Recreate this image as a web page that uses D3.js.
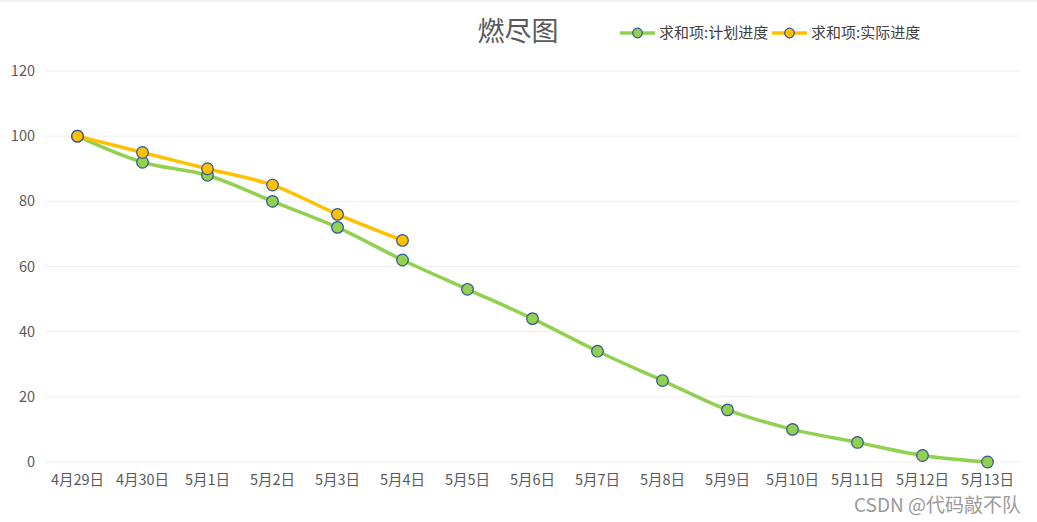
<!DOCTYPE html>
<html>
<head>
<meta charset="utf-8">
<script src="https://cdn.jsdelivr.net/npm/d3@7"></script>
<style>
  body { margin: 0; background: #fff; }
  svg { font-family: "Noto Sans CJK SC", "DejaVu Sans", sans-serif; }
</style>
</head>
<body>
<div id="chart"></div>
<script>
const categories = ["4月29日", "4月30日", "5月1日", "5月2日", "5月3日", "5月4日", "5月5日",
  "5月6日", "5月7日", "5月8日", "5月9日", "5月10日", "5月11日", "5月12日", "5月13日"];
const planned = [100, 92, 88, 80, 72, 62, 53, 44, 34, 25, 16, 10, 6, 2, 0];
const actual = [100, 95, 90, 85, 76, 68];
const yTicks = [0, 20, 40, 60, 80, 100, 120];
const seriesNames = ["求和项:计划进度", "求和项:实际进度"];

const width = 1037, height = 522;
const margin = { top: 71, right: 17, bottom: 60, left: 45 };

const svg = d3.select("#chart").append("svg")
  .attr("width", width)
  .attr("height", height);

// faint strip at the very top
svg.append("line")
  .attr("x1", 0).attr("x2", width)
  .attr("y1", 1).attr("y2", 1)
  .attr("stroke", "#ececec").attr("stroke-width", 1.5);

const x = d3.scalePoint(categories, [margin.left, width - margin.right]).padding(0.5);
const y = d3.scaleLinear([0, 120], [height - margin.bottom, margin.top]);

// grid
svg.append("g")
  .selectAll("line")
  .data(yTicks)
  .join("line")
  .attr("x1", margin.left)
  .attr("x2", width - margin.right)
  .attr("y1", d => y(d))
  .attr("y2", d => y(d))
  .attr("stroke", "#eeeeee")
  .attr("stroke-width", 1);

// y labels
svg.append("g")
  .selectAll("text")
  .data(yTicks)
  .join("text")
  .attr("x", 35)
  .attr("y", d => y(d) + 5)
  .attr("text-anchor", "end")
  .attr("fill", "#595959")
  .attr("font-size", "14.5px")
  .text(d => d);

// x labels
svg.append("g")
  .selectAll("text")
  .data(categories)
  .join("text")
  .attr("x", d => x(d))
  .attr("y", 485)
  .attr("text-anchor", "middle")
  .attr("fill", "#595959")
  .attr("font-size", "14.5px")
  .text(d => d);

const line = d3.line()
  .curve(d3.curveCatmullRom)
  .x((d, i) => x(categories[i]))
  .y(d => y(d));

const series = [
  { name: seriesNames[0], values: planned, color: "#92D050" },
  { name: seriesNames[1], values: actual, color: "#FFC000" },
];

series.forEach(s => {
  svg.append("path")
    .attr("d", line(s.values))
    .attr("fill", "none")
    .attr("stroke", s.color)
    .attr("stroke-width", 3.5)
    .attr("stroke-linejoin", "round");
});

series.forEach(s => {
  svg.append("g")
    .selectAll("circle")
    .data(s.values)
    .join("circle")
    .attr("cx", (d, i) => x(categories[i]))
    .attr("cy", d => y(d))
    .attr("r", 5.8)
    .attr("fill", s.color)
    .attr("stroke", "#2F5597")
    .attr("stroke-width", 1.2);
});

// title
svg.append("text")
  .attr("x", 518)
  .attr("y", 41)
  .attr("text-anchor", "middle")
  .attr("fill", "#595959")
  .attr("font-size", "27px")
  .text("燃尽图");

// legend
const legendX = [620, 772];
series.forEach((s, i) => {
  const lx = legendX[i];
  svg.append("line")
    .attr("x1", lx).attr("x2", lx + 35)
    .attr("y1", 33).attr("y2", 33)
    .attr("stroke", s.color)
    .attr("stroke-width", 3.5);
  svg.append("circle")
    .attr("cx", lx + 17.5).attr("cy", 33)
    .attr("r", 4.8)
    .attr("fill", s.color)
    .attr("stroke", "#2F5597")
    .attr("stroke-width", 1.2);
  svg.append("text")
    .attr("x", lx + 39)
    .attr("y", 38)
    .attr("fill", "#404040")
    .attr("font-size", "15px")
    .text(s.name);
});

// watermark
svg.append("text")
  .attr("x", 1021)
  .attr("y", 512)
  .attr("text-anchor", "end")
  .attr("fill", "#9a9a9a")
  .attr("font-size", "19px")
  .text("CSDN @代码敲不队");
</script>
</body>
</html>
